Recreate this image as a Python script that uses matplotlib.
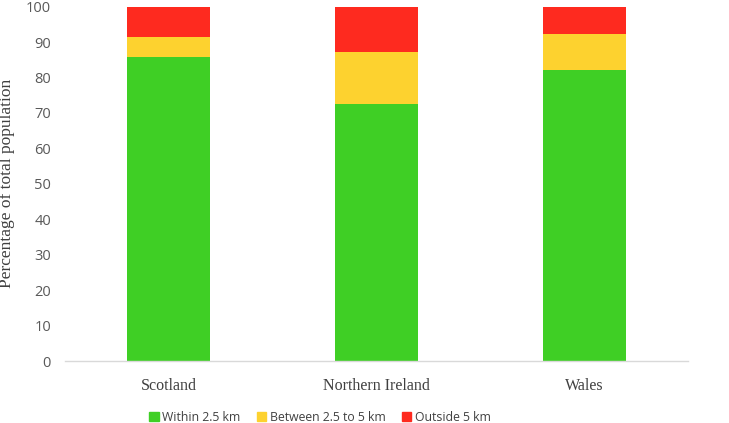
import numpy as np
import matplotlib.pyplot as plt
from matplotlib.patches import Patch

regions = ["Scotland", "Northern Ireland", "Wales"]
within_25 = [85.9, 72.4, 82.1]
between_25_5 = [5.5, 14.8, 10.1]
outside_5 = [8.6, 12.8, 7.8]

green = "#3fcf25"
yellow = "#fdd22f"
red = "#fe2a1f"

fig = plt.figure(figsize=(7.29, 4.23), dpi=100)
ax = fig.add_axes([65 / 729, 62 / 423, 623 / 729, 354.3 / 423])

x = np.arange(len(regions))
w = 0.4
ax.bar(x, within_25, w, color=green)
ax.bar(x, between_25_5, w, bottom=within_25, color=yellow)
bottom2 = np.array(within_25) + np.array(between_25_5)
ax.bar(x, outside_5, w, bottom=bottom2, color=red)

ax.set_xlim(-0.5, 2.5)
ax.set_ylim(0, 100)
ax.set_yticks(range(0, 101, 10))
ax.set_xticks(x)
ax.set_xticklabels(regions, fontfamily="Liberation Serif", fontsize=11.5, color="#404040")
for lab in ax.get_yticklabels():
    lab.set_fontfamily("Open Sans")
    lab.set_fontsize(10.5)
    lab.set_color("#595959")
ax.tick_params(axis="both", length=0)
ax.tick_params(axis="x", pad=12)
ax.tick_params(axis="y", pad=10)
for s in ["top", "right", "left"]:
    ax.spines[s].set_visible(False)
ax.spines["bottom"].set_color("#d9d9d9")
ax.spines["bottom"].set_linewidth(1)

ax.set_ylabel("Percentage of total population", fontfamily="Liberation Serif",
              fontsize=12.5, color="#404040", labelpad=8)

handles = [Patch(color=green, label="Within 2.5 km"),
           Patch(color=yellow, label="Between 2.5 to 5 km"),
           Patch(color=red, label="Outside 5 km")]
fig.legend(handles=handles, loc="center", bbox_to_anchor=(320 / 729, 1 - 417 / 423),
           ncol=3, frameon=False, handlelength=0.8, handleheight=0.8,
           handletextpad=0.3, columnspacing=1.3,
           prop={"family": "Open Sans", "size": 8.8})
for t in fig.legends[0].get_texts():
    t.set_color("#404040")

fig.savefig("out.png", dpi=100)
